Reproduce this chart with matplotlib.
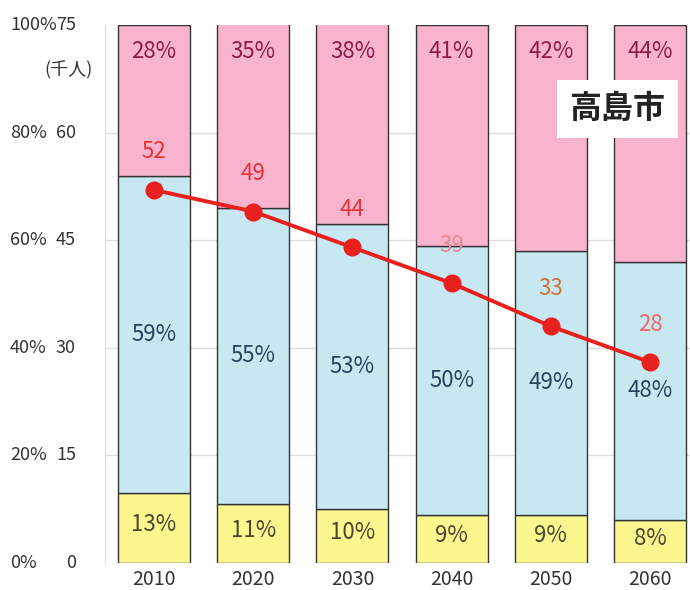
import matplotlib
matplotlib.use("Agg")
import matplotlib.pyplot as plt

plt.rcParams["font.family"] = ["Noto Sans CJK JP", "DejaVu Sans"]

years = ["2010", "2020", "2030", "2040", "2050", "2060"]
share_young = [13, 11, 10, 9, 9, 8]        # yellow, bottom
share_working = [59, 55, 53, 50, 49, 48]   # light blue, middle
share_elderly = [28, 35, 38, 41, 42, 44]   # pink, top
population = [52, 49, 44, 39, 33, 28]      # thousand people

pct_ticks = [0, 20, 40, 60, 80, 100]
pop_ticks = [0, 15, 30, 45, 60, 75]

pop_label_colors = ["#e8323a", "#e8323a", "#e8323a", "#e58a96", "#c8743a", "#ec6a66"]

fig = plt.figure(figsize=(6.9, 5.9), dpi=100)
ax = fig.add_axes([105 / 690, 27 / 590, 585 / 690, 538 / 590])

x = list(range(len(years)))
w = 0.726
mid_base = share_young
top_base = [a + b for a, b in zip(share_young, share_working)]

ax.bar(x, share_young, w, color="#fbf78e", edgecolor="#333333", linewidth=1, zorder=2)
ax.bar(x, share_working, w, bottom=mid_base, color="#c8e8f1",
       edgecolor="#333333", linewidth=1, zorder=2)
ax.bar(x, share_elderly, w, bottom=top_base, color="#f9b3cd",
       edgecolor="#333333", linewidth=1, zorder=2)

for i in x:
    ax.text(i, 95, f"{share_elderly[i]}%", ha="center", va="center",
            fontsize=16, color="#8a1c4c", zorder=5)
    ax.text(i, share_young[i] + share_working[i] / 2, f"{share_working[i]}%",
            ha="center", va="center", fontsize=16, color="#27445e", zorder=5)
    ax.text(i, share_young[i] / 2 + 0.6, f"{share_young[i]}%",
            ha="center", va="center", fontsize=16, color="#4a4630", zorder=5)

ax.set_xlim(-0.494, 5.403)
ax.set_ylim(0, 100)
ax.set_yticks(pct_ticks[1:-1])
ax.yaxis.grid(True, color="#dddddd", linewidth=1)
ax.set_axisbelow(True)
ax.tick_params(axis="y", length=0, labelleft=False)
ax.set_xticks(x)
ax.set_xticklabels(years, fontsize=14, color="#333333")
ax.tick_params(axis="x", length=0, pad=4)
for s in ["top", "right", "bottom"]:
    ax.spines[s].set_visible(False)
ax.spines["left"].set_color("#dddddd")

# left-hand double scale
for p, n in zip(pct_ticks, pop_ticks):
    yy = ax.transData.transform((0, p))[1]
    fy = yy / fig.dpi / 5.9
    fig.text(10 / 690, fy, f"{p}%", ha="left", va="center",
             fontsize=13, color="#333333")
    fig.text(76 / 690, fy, f"{n}", ha="right", va="center",
             fontsize=13, color="#333333")
fig.text(44 / 690, 1 - 70 / 590, "(千人)", ha="left", va="center",
         fontsize=13, color="#333333")

ax2 = ax.twinx()
ax2.set_ylim(0, 75)
ax2.axis("off")
ax2.plot(x, population, color="#e8201e", linewidth=2.8, marker="o",
         markersize=12, markerfacecolor="#e8201e", markeredgecolor="#e8201e",
         zorder=4)
for i in x:
    ax2.text(i, population[i] + 5.3, str(population[i]), ha="center", va="center",
             fontsize=16, color=pop_label_colors[i], zorder=5)

ax2.text(4.67, 63.3, "高島市", ha="center", va="center", fontsize=23,
         fontweight="bold", color="#222222", zorder=6,
         bbox=dict(boxstyle="square,pad=0.4", facecolor="white", edgecolor="none"))

fig.savefig("out.png", dpi=100)
